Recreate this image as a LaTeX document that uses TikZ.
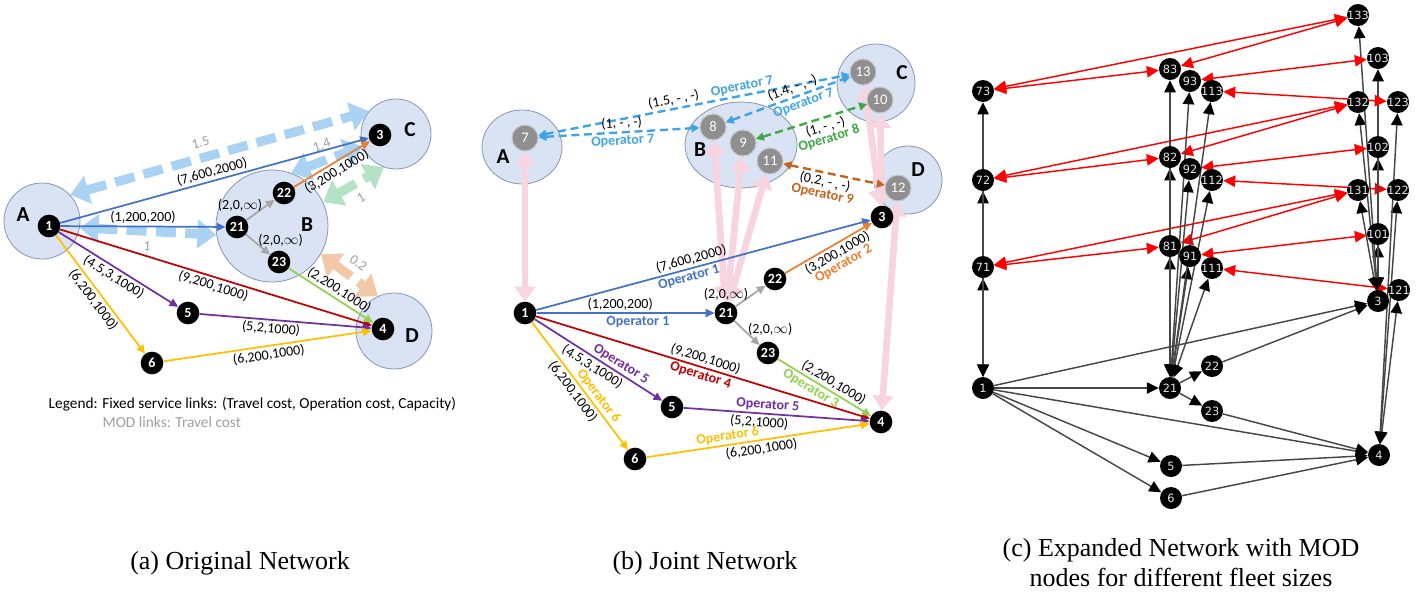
\documentclass[tikz,border=0pt]{standalone}
\usepackage{fontspec}
\setmainfont{Carlito}
\newfontfamily\capfont{Liberation Serif}
\newfontfamily\nxfont{DejaVu Sans}
\usetikzlibrary{arrows.meta,shapes.geometric}
\definecolor{zonefill}{HTML}{DAE3F3}
\definecolor{zoneline}{HTML}{8497B0}
\definecolor{opblue}{HTML}{4472C4}
\definecolor{opred}{HTML}{C00000}
\definecolor{oppurple}{HTML}{7030A0}
\definecolor{opyellow}{HTML}{FFC000}
\definecolor{oporange}{HTML}{ED7D31}
\definecolor{opgreen}{HTML}{92D050}
\definecolor{opgray}{HTML}{A6A6A6}
\definecolor{modblue}{HTML}{A9D2F3}
\definecolor{modgreen}{HTML}{B5E2C4}
\definecolor{modtan}{HTML}{F2C8A8}
\definecolor{opseven}{HTML}{3FA3E6}
\definecolor{opeight}{HTML}{3DA844}
\definecolor{opnine}{HTML}{C5621C}
\definecolor{accpink}{HTML}{F8D3E0}
\definecolor{modgray}{HTML}{8F8F8F}
\newcommand{\lblsize}{\fontsize{10.5}{12}\selectfont}
\newcommand{\zonesize}{\fontsize{16}{16}\selectfont\bfseries}
\pgfdeclarelayer{zones}
\pgfdeclarelayer{links}
\pgfsetlayers{zones,links,main}

\begin{document}
\begin{tikzpicture}[x=0.75pt,y=-0.75pt]
\tikzset{
  zone/.style={circle, draw=zoneline, fill=zonefill, line width=0.6pt, inner sep=0pt},
  ezone/.style={ellipse, draw=zoneline, fill=zonefill, line width=0.6pt, inner sep=0pt},
  stop/.style={circle, fill=black, text=white, inner sep=0pt, minimum size=17pt, font=\fontsize{10.5}{10.5}\selectfont\bfseries},
  modstop/.style={circle, fill=modgray, draw=gray!45, line width=0.8pt, text=white, inner sep=0pt, minimum size=19.5pt, font=\fontsize{11}{11}\selectfont},
  zname/.style={font=\zonesize},
  fixed/.style={line width=1.3pt, -{Triangle[length=6.5pt,width=6pt]}},
  modthick/.style={line width=7pt, dash pattern=on 15pt off 7pt, {Triangle[length=14pt,width=21pt]}-{Triangle[length=14pt,width=21pt]}},
  moddash/.style={line width=1.8pt, dash pattern=on 6pt off 3.5pt, {Triangle[length=6pt,width=6pt]}-{Triangle[length=6pt,width=6pt]}},
  access/.style={draw=accpink, line width=5pt, {Triangle[length=11pt,width=15pt]}-{Triangle[length=11pt,width=15pt]}},
  tag/.style={font=\lblsize, text=black, sloped, inner sep=1.5pt},
  optag/.style={tag, font=\lblsize\bfseries},
  mtag/.style={font=\lblsize, text=gray!75, sloped, inner sep=4.5pt},
  xnode/.style={circle, fill=black, text=white!90!black, inner sep=0pt, minimum size=16.5pt, font=\nxfont\fontsize{8.5}{8.5}\selectfont},
  xedge/.style={draw=black!72, line width=1.1pt, -{Triangle[length=9pt,width=8.5pt,color=black]}},
  xboth/.style={draw=black!72, line width=1.1pt, {Triangle[length=9pt,width=8.5pt,color=black]}-{Triangle[length=9pt,width=8.5pt,color=black]}},
  xmod/.style={draw=red, line width=1.1pt, {Triangle[length=9pt,width=8.5pt]}-{Triangle[length=9pt,width=8.5pt]}},
  caption/.style={font=\capfont\fontsize{19.5}{22.5}\selectfont, align=center}
}
\useasboundingbox (0,0) rectangle (1419,594);

% (a) original network
\begin{pgfonlayer}{zones}
\node[zone, minimum size=57pt] (zA) at (42,221) {};
\node[zone, minimum size=84pt] (zB) at (272,226) {};
\node[zone, minimum size=52.5pt] (zC) at (396,134) {};
\node[zone, minimum size=57pt] (zD) at (394,331) {};
\end{pgfonlayer}
\node[zname] (nA) at (23,215) {A};
\node[zname] (nB) at (307,225) {B};
\node[zname] (nC) at (410,130) {C};
\node[zname] (nD) at (412,336) {D};
\node[stop] (a1) at (49,226) {1};
\node[stop] (a21) at (237,227) {21};
\node[stop] (a22) at (284,193) {22};
\node[stop] (a23) at (279,262) {23};
\node[stop] (a3) at (380,135) {3};
\node[stop] (a4) at (383,329) {4};
\node[stop] (a5) at (188,313) {5};
\node[stop] (a6) at (152,363) {6};
\begin{pgfonlayer}{links}
\draw[modthick, modblue] (zA.43) -- node[mtag, above, pos=0.45] {1.5} (zC.140);
\draw[modthick, modblue] (zA.-10) -- node[mtag, below] {1} (zB.189);
\draw[modthick, modblue] (zB.70) -- node[mtag, above] {1.4} (zC.200);
\draw[modthick, modgreen] (zB.25) -- node[mtag, below] {1} (zC.250);
\draw[modthick, modtan] (zB.-30) -- node[mtag, above] {0.2} (zD.115);
\draw[fixed, opblue] (a1) -- node[tag, above] {(7,600,2000)} (a3);
\draw[fixed, opblue] (a1) -- node[tag, above] {(1,200,200)} (a21);
\draw[fixed, opred] (a1) -- node[tag, below] {(9,200,1000)} (a4);
\draw[fixed, oppurple] (a1) -- node[tag, below] {(4.5,3,1000)} (a5);
\draw[fixed, opyellow] (a1) -- node[tag, below] {(6,200,1000)} (a6);
\draw[fixed, oppurple] (a5) -- node[tag, below, pos=0.42] {(5,2,1000)} (a4);
\draw[fixed, opyellow] (a6) -- node[tag, below] {(6,200,1000)} (a4);
\draw[fixed, opgray] (a21) -- node[font=\lblsize, text=black, left, pos=0.75] {(2,0,$\infty$)} (a22);
\draw[fixed, opgray] (a21) -- node[font=\lblsize, text=black, right, pos=0.3] {(2,0,$\infty$)} (a23);
\draw[fixed, oporange] (a22) -- node[tag, below] {(3,200,1000)} (a3);
\draw[fixed, opgreen] (a23) -- node[tag, above, pos=0.54] {(2,200,1000)} (a4);
\end{pgfonlayer}
\node[font=\fontsize{11.5}{13}\selectfont, anchor=west] (legend) at (44,404) {Legend: Fixed service links: (Travel cost, Operation cost, Capacity)};
\node[font=\fontsize{11.5}{13}\selectfont, anchor=west, text=gray!75] (legmod) at (98,422) {MOD links: Travel cost};

% (b) joint network
\begin{pgfonlayer}{zones}
\node[ezone, minimum width=60pt, minimum height=55.5pt] (zA2) at (522,147) {};
\node[ezone, minimum width=84pt, minimum height=64.5pt] (zB2) at (741,145) {};
\node[zone, minimum size=58.5pt] (zC2) at (876,83) {};
\node[zone, minimum size=51pt] (zD2) at (908,180) {};
\end{pgfonlayer}
\node[zname] (nA2) at (503,157) {A};
\node[zname] (nB2) at (700,150) {B};
\node[zname] (nC2) at (902,73) {C};
\node[zname] (nD2) at (918,170) {D};
\node[modstop] (b7) at (525,138) {7};
\node[modstop] (b8) at (713,127) {8};
\node[modstop] (b9) at (743,143) {9};
\node[modstop] (b11) at (770,161) {11};
\node[modstop] (b13) at (863,72) {13};
\node[modstop] (b10) at (880,100) {10};
\node[modstop] (b12) at (898,188) {12};
\node[stop] (b1) at (525,313) {1};
\node[stop] (b21) at (726,313) {21};
\node[stop] (b22) at (775,279) {22};
\node[stop] (b23) at (768,353) {23};
\node[stop] (b3) at (882,217) {3};
\node[stop] (b4) at (881,422) {4};
\node[stop] (b5) at (672,407) {5};
\node[stop] (b6) at (635,459) {6};
\begin{pgfonlayer}{links}
\foreach \u/\v in {b7/b1, b8/b21, b9/b21, b11/b21, b13/b3, b10/b3, b12/b4}
  \draw[access] (\u) -- (\v);
\draw[moddash, opseven] (b7) -- node[tag, above, pos=0.44] {(1.5, - , -)} node[optag, above, pos=0.66, text=opseven] {Operator 7} (b13);
\draw[moddash, opseven] (b7) -- node[tag, above, pos=0.52] {(1, - , -)} node[optag, below, pos=0.52, text=opseven] {Operator 7} (b8);
\draw[moddash, opseven] (b8) -- node[tag, above, pos=0.56] {(1.4, - , -)} node[optag, below, pos=0.6, text=opseven] {Operator 7} (b13);
\draw[moddash, opeight] (b9) -- node[tag, below, align=center, pos=0.6] {(1, - , -)\\[-3pt]\textcolor{opeight}{\bfseries Operator 8}} (b10);
\draw[moddash, opnine] (b11) -- node[tag, below, align=center, pos=0.43] {(0.2, - , -)\\[-3pt]\textcolor{opnine}{\bfseries Operator 9}} (b12);
\draw[fixed, opblue] (b1) -- node[tag, above, pos=0.47] {(7,600,2000)} node[optag, below, pos=0.45, text=opblue] {Operator 1} (b3);
\draw[fixed, opblue] (b1) -- node[tag, above, pos=0.47] {(1,200,200)} node[optag, below, pos=0.57, text=opblue] {Operator 1} (b21);
\draw[fixed, opred] (b1) -- node[tag, above, pos=0.5] {(9,200,1000)} node[optag, below, pos=0.5, text=opred] {Operator 4} (b4);
\draw[fixed, oppurple] (b1) -- node[optag, above, pos=0.64, text=oppurple] {Operator 5} node[tag, below, pos=0.49] {(4.5,3,1000)} (b5);
\draw[fixed, opyellow] (b1) -- node[optag, above, pos=0.62, text=opyellow] {Operator 6} node[tag, below, pos=0.5] {(6,200,1000)} (b6);
\draw[fixed, oppurple] (b5) -- node[optag, above, pos=0.45, text=oppurple] {Operator 5} node[tag, below, pos=0.41] {(5,2,1000)} (b4);
\draw[fixed, opyellow] (b6) -- node[optag, above, pos=0.37, text=opyellow] {Operator 6} node[tag, below, pos=0.51] {(6,200,1000)} (b4);
\draw[fixed, opgray] (b21) -- node[font=\lblsize, text=black, left, pos=0.6] {(2,0,$\infty$)} (b22);
\draw[fixed, opgray] (b21) -- node[font=\lblsize, text=black, right, pos=0.33] {(2,0,$\infty$)} (b23);
\draw[fixed, oporange] (b22) -- node[tag, below, align=center, pos=0.55] {(3,200,1000)\\[-3pt]\textcolor{oporange}{\bfseries Operator 2}} (b3);
\draw[fixed, opgreen] (b23) -- node[tag, above, pos=0.55] {(2,200,1000)} node[optag, below, pos=0.4, text=opgreen] {Operator 3} (b4);
\end{pgfonlayer}

% (c) expanded network
\foreach \n/\x/\y in {73/983/91, 72/983/180, 71/983/267, 1/983/388,
    83/1170/69, 93/1190/81, 82/1170/157, 92/1190/169, 81/1170/246, 91/1190/256,
    21/1170/388, 5/1171/466, 6/1171/498, 133/1358/15, 103/1378/58, 113/1212/91,
    132/1358/102, 123/1398/102, 102/1378/147, 112/1212/180, 131/1358/190,
    122/1398/190, 101/1378/234, 111/1212/268, 121/1399/290, 3/1378/301,
    22/1212/366, 23/1212/411, 4/1379/455}
  \node[xnode] (c\n) at (\x,\y) {\makebox[0pt]{\n}};
\begin{pgfonlayer}{links}
\foreach \u/\v in {1/21, 1/3, 1/4, 1/5, 1/6, 21/22, 21/23, 22/3, 23/4, 5/4, 6/4}
  \draw[xedge] (c\u) -- (c\v);
\foreach \k in {1,2,3}{
  \draw[xboth] (c1) -- (c7\k);
  \draw[xboth] (c21) -- (c8\k);
  \draw[xboth] (c21) -- (c9\k);
  \draw[xboth] (c21) -- (c11\k);
  \draw[xboth] (c3) -- (c10\k);
  \draw[xboth] (c3) -- (c13\k);
  \draw[xboth] (c4) -- (c12\k);
  \draw[xmod] (c7\k) -- (c8\k);
  \draw[xmod] (c7\k) -- (c13\k);
  \draw[xmod] (c8\k) -- (c13\k);
  \draw[xmod] (c9\k) -- (c10\k);
  \draw[xmod] (c11\k) -- (c12\k);
}
\end{pgfonlayer}

\node[caption] (capa) at (240,563) {(a) Original Network};
\node[caption] (capb) at (705,563) {(b) Joint Network};
\node[caption] (capc) at (1181,563) {(c) Expanded Network with MOD\\nodes for different fleet sizes};
\end{tikzpicture}
\end{document}
